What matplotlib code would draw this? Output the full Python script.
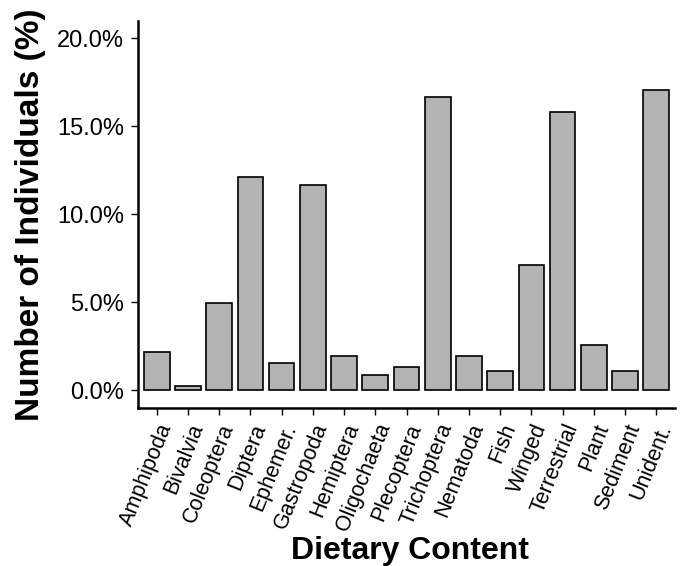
import matplotlib
matplotlib.use("Agg")
import matplotlib.pyplot as plt
from matplotlib.ticker import FuncFormatter

plt.rcParams['font.family'] = ['Liberation Sans', 'DejaVu Sans']

categories = ["Amphipoda", "Bivalvia", "Coleoptera", "Diptera", "Ephemer.",
              "Gastropoda", "Hemiptera", "Oligochaeta", "Plecoptera",
              "Trichoptera", "Nematoda", "Fish", "Winged", "Terrestrial",
              "Plant", "Sediment", "Unident."]
percent = [2.2, 0.23, 4.96, 12.1, 1.53,
           11.68, 1.98, 0.9, 1.34,
           16.68, 1.96, 1.11, 7.15, 15.79,
           2.6, 1.11, 17.07]
y_ticks = [0, 5, 10, 15, 20]

fig = plt.figure(figsize=(6.87, 5.66), dpi=100)
ax = fig.add_axes([138 / 687, (566 - 408) / 566, (675 - 138) / 687, (408 - 20.7) / 566])

x = list(range(len(categories)))
ax.bar(x, percent, width=0.82, color="#b3b3b3", edgecolor="black", linewidth=1.2)

ax.set_xlim(-0.6, len(categories) - 0.4)
ax.set_ylim(-1, 21)
ax.set_yticks(y_ticks)
ax.yaxis.set_major_formatter(FuncFormatter(lambda v, p: "%.1f%%" % v))
ax.set_xticks(x)
ax.set_xticklabels(categories, rotation=68, ha="right", va="top",
                   rotation_mode="anchor", fontsize=15.5)
ax.tick_params(axis="y", labelsize=17, length=5, width=1, pad=5)
ax.tick_params(axis="x", length=5, width=1, pad=4)

for s in ["top", "right"]:
    ax.spines[s].set_visible(False)
for s in ["left", "bottom"]:
    ax.spines[s].set_linewidth(1.8)

ax.set_xlabel("Dietary Content", fontsize=23, fontweight="bold")
ax.xaxis.set_label_coords(0.507, -0.331)
ax.set_ylabel("Number of Individuals (%)", fontsize=24, fontweight="bold", labelpad=8)

fig.savefig("out.png", dpi=100)
